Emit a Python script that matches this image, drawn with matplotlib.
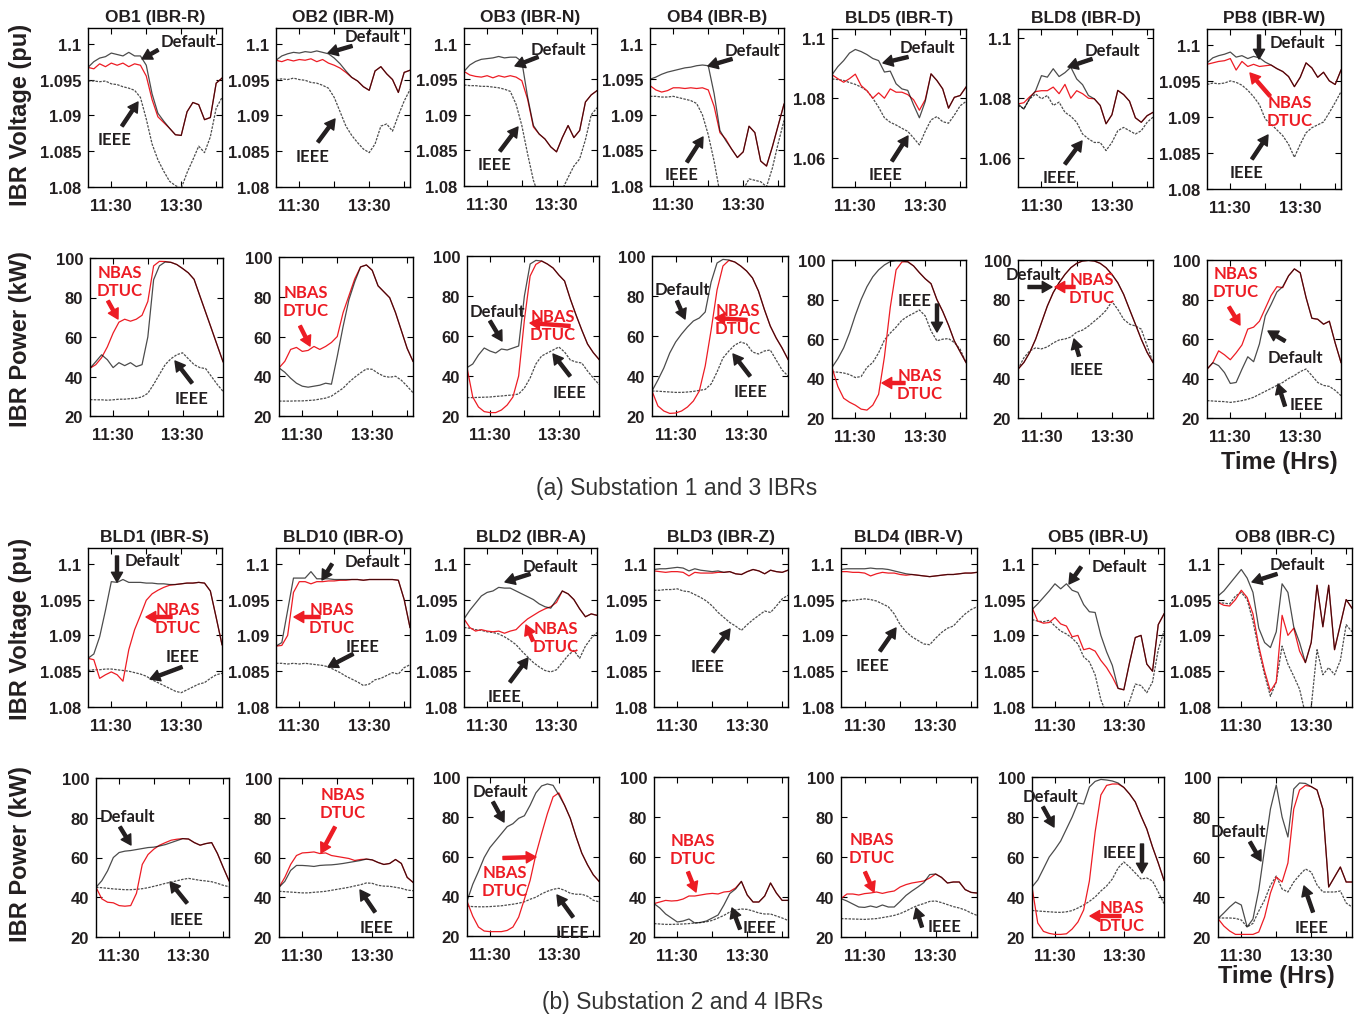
import matplotlib
matplotlib.use('Agg')
import matplotlib.pyplot as plt
import matplotlib.transforms as mtransforms

plt.rcParams['font.family'] = ['Liberation Sans', 'DejaVu Sans']
plt.rcParams['font.weight'] = 'bold'

# clock minutes of the samples (10:50 .. 14:40, every 10 min)
minutes = [650, 660, 670, 680, 690, 700, 710, 720, 730, 740, 750, 760,
           770, 780, 790, 800, 810, 820, 830, 840, 850, 860, 870, 880]
hours = [m / 60 for m in minutes]

# ---------------- (a) substation 1 and 3 : voltage (pu) ----------------
ob1_v_def = [1.0967,1.0975,1.0980,1.0982,1.0987,1.0985,1.0983,1.0988,1.0983,1.0983,1.0970,1.0930,1.0903,1.0892,1.0882,1.0873,1.0872,1.0905,1.0918,1.0915,1.0894,1.0897,1.0945,1.0952]
ob1_v_nbas = [1.0967,1.0965,1.0972,1.0968,1.0973,1.0970,1.0973,1.0968,1.0972,1.0970,1.0955,1.0922,1.0898,1.0890,1.0882,1.0873,1.0872,1.0905,1.0918,1.0915,1.0894,1.0897,1.0945,1.0952]
ob1_v_ieee = [1.0948,1.0948,1.0947,1.0948,1.0944,1.0943,1.0940,1.0938,1.0935,1.0925,1.0895,1.0860,1.0838,1.0822,1.0808,1.0802,1.0798,1.0820,1.0838,1.0857,1.0848,1.0870,1.0910,1.0925]

ob2_v_def = [1.0977,1.0983,1.0986,1.0988,1.0987,1.0989,1.0988,1.0990,1.0988,1.0986,1.0980,1.0972,1.0962,1.0953,1.0948,1.0940,1.0935,1.0962,1.0968,1.0958,1.0950,1.0932,1.0960,1.0963]
ob2_v_nbas = [1.0977,1.0975,1.0978,1.0976,1.0978,1.0977,1.0979,1.0975,1.0978,1.0973,1.0970,1.0966,1.0960,1.0953,1.0948,1.0940,1.0935,1.0962,1.0968,1.0958,1.0950,1.0932,1.0960,1.0963]
ob2_v_ieee = [1.0950,1.0951,1.0950,1.0952,1.0950,1.0949,1.0946,1.0945,1.0942,1.0938,1.0925,1.0905,1.0885,1.0872,1.0862,1.0853,1.0848,1.0860,1.0885,1.0888,1.0878,1.0900,1.0920,1.0936]

ob3_v_def = [1.0961,1.0970,1.0975,1.0978,1.0979,1.0980,1.0982,1.0980,1.0981,1.0981,1.0975,1.0925,1.0885,1.0873,1.0866,1.0855,1.0848,1.0868,1.0885,1.0868,1.0878,1.0918,1.0928,1.0934]
ob3_v_nbas = [1.0961,1.0956,1.0954,1.0953,1.0955,1.0952,1.0955,1.0953,1.0955,1.0953,1.0948,1.0922,1.0883,1.0873,1.0866,1.0855,1.0848,1.0868,1.0885,1.0868,1.0878,1.0918,1.0928,1.0934]
ob3_v_ieee = [1.0942,1.0941,1.0941,1.0940,1.0940,1.0939,1.0938,1.0936,1.0933,1.0915,1.0885,1.0845,1.0808,1.0785,1.0780,1.0780,1.0785,1.0795,1.0812,1.0828,1.0838,1.0865,1.0900,1.0910]

ob4_v_def = [1.0950,1.0953,1.0957,1.0960,1.0962,1.0964,1.0966,1.0967,1.0969,1.0970,1.0969,1.0930,1.0878,1.0864,1.0852,1.0840,1.0848,1.0884,1.0875,1.0835,1.0828,1.0855,1.0885,1.0915]
ob4_v_nbas = [1.0941,1.0935,1.0932,1.0934,1.0938,1.0938,1.0937,1.0938,1.0937,1.0938,1.0935,1.0912,1.0875,1.0866,1.0852,1.0840,1.0848,1.0884,1.0875,1.0835,1.0828,1.0855,1.0885,1.0915]
ob4_v_ieee = [1.0926,1.0926,1.0925,1.0925,1.0926,1.0924,1.0922,1.0920,1.0916,1.0900,1.0872,1.0835,1.0790,1.0780,1.0775,1.0785,1.0795,1.0810,1.0808,1.0806,1.0799,1.0825,1.0860,1.0892]

bld5_v_def = [1.0878,1.0905,1.0925,1.0950,1.0962,1.0955,1.0945,1.0932,1.0925,1.0887,1.0890,1.0848,1.0831,1.0826,1.0778,1.0735,1.0789,1.0881,1.0859,1.0831,1.0767,1.0803,1.0809,1.0837]
bld5_v_nbas = [1.0878,1.0865,1.0853,1.0865,1.0880,1.0842,1.0825,1.0800,1.0818,1.0800,1.0831,1.0820,1.0820,1.0812,1.0795,1.0760,1.0795,1.0881,1.0859,1.0831,1.0767,1.0803,1.0809,1.0837]
bld5_v_ieee = [1.0864,1.0862,1.0859,1.0852,1.0846,1.0837,1.0825,1.0800,1.0770,1.0735,1.0720,1.0711,1.0700,1.0690,1.0668,1.0645,1.0690,1.0728,1.0739,1.0722,1.0717,1.0744,1.0775,1.0789]

bld8_v_def = [1.0781,1.0764,1.0800,1.0825,1.0875,1.0870,1.0898,1.0872,1.0885,1.0903,1.0864,1.0845,1.0809,1.0798,1.0776,1.0715,1.0745,1.0826,1.0812,1.0790,1.0735,1.0720,1.0742,1.0753]
bld8_v_nbas = [1.0781,1.0785,1.0805,1.0822,1.0825,1.0825,1.0837,1.0815,1.0846,1.0800,1.0825,1.0815,1.0800,1.0798,1.0776,1.0715,1.0745,1.0826,1.0812,1.0790,1.0735,1.0720,1.0742,1.0753]
bld8_v_ieee = [1.0776,1.0765,1.0798,1.0814,1.0798,1.0809,1.0776,1.0787,1.0753,1.0740,1.0720,1.0681,1.0665,1.0653,1.0653,1.0626,1.0653,1.0692,1.0703,1.0692,1.0681,1.0692,1.0720,1.0737]

pb8_v_def = [1.0975,1.0982,1.0985,1.0987,1.0990,1.0983,1.0985,1.0981,1.0984,1.0982,1.0976,1.0972,1.0967,1.0963,1.0956,1.0942,1.0955,1.0975,1.0968,1.0955,1.0962,1.0950,1.0945,1.0965]
pb8_v_nbas = [1.0973,1.0975,1.0977,1.0978,1.0981,1.0965,1.0977,1.0970,1.0973,1.0970,1.0971,1.0972,1.0967,1.0963,1.0956,1.0942,1.0955,1.0975,1.0968,1.0955,1.0962,1.0950,1.0945,1.0965]
pb8_v_ieee = [1.0945,1.0947,1.0946,1.0947,1.0950,1.0948,1.0944,1.0937,1.0928,1.0917,1.0897,1.0890,1.0882,1.0874,1.0862,1.0844,1.0862,1.0878,1.0885,1.0889,1.0893,1.0906,1.0920,1.0935]

# ---------------- (a) substation 1 and 3 : power (kW) ----------------
ob1_p_def = [44.2,47.5,51.0,48.5,44.5,47.0,45.5,47.0,45.0,46.0,60.0,89.0,96.0,98.0,97.8,96.7,94.7,92.5,89.2,80.8,72.5,64.2,55.8,47.5]
ob1_p_nbas = [44.2,46.0,49.5,55.0,62.0,67.5,69.0,68.0,69.0,71.0,78.0,96.0,98.3,98.2,97.8,96.7,94.7,92.5,89.2,80.8,72.5,64.2,55.8,47.5]
ob1_p_ieee = [28.3,28.2,28.2,28.0,28.2,28.5,28.5,28.8,29.0,29.7,31.5,36.0,41.0,46.0,49.0,51.0,52.0,49.0,46.0,44.5,44.0,40.0,36.0,32.5]

ob2_p_def = [44.2,42.0,39.0,36.5,35.0,34.5,35.0,35.5,36.5,36.0,50.0,65.0,78.5,87.5,95.0,96.0,93.3,85.5,82.5,79.5,72.0,63.0,54.0,47.5]
ob2_p_nbas = [44.2,47.5,53.5,54.5,52.5,53.0,55.0,53.5,55.0,57.0,60.0,72.0,80.5,89.0,95.0,96.0,93.3,85.5,82.5,79.5,72.0,63.0,54.0,47.5]
ob2_p_ieee = [27.5,27.5,27.5,27.6,27.6,27.8,28.0,28.5,29.0,30.0,32.0,34.0,37.0,39.5,41.7,43.7,43.5,41.5,40.0,39.5,40.0,38.0,35.0,31.7]

ob3_p_def = [44.2,46.0,50.5,54.0,52.5,51.5,53.5,53.0,54.0,55.0,80.0,96.0,97.8,97.5,96.0,94.0,90.5,87.5,78.5,70.5,63.0,56.0,51.7,48.3]
ob3_p_nbas = [44.2,29.5,24.5,22.2,21.7,21.7,23.0,25.5,29.5,40.0,68.0,90.0,95.8,97.5,96.0,94.0,90.5,87.5,78.5,70.5,63.0,56.0,51.7,48.3]
ob3_p_ieee = [29.2,29.2,29.3,29.4,29.5,29.8,30.0,30.3,30.5,31.0,34.0,39.0,46.0,50.0,51.5,53.0,54.5,52.0,48.0,47.0,46.5,42.5,39.0,35.8]

ob4_p_def = [32.5,38.0,44.0,51.5,57.0,61.0,64.5,67.5,69.0,72.0,87.0,96.5,98.3,98.0,97.0,95.0,92.5,89.0,82.5,73.3,65.0,59.0,54.0,48.3]
ob4_p_nbas = [32.5,25.0,22.5,21.3,21.5,22.5,24.5,27.5,32.5,45.0,63.0,83.0,95.0,97.8,97.0,95.0,92.5,89.0,82.5,73.3,65.0,59.0,54.0,48.3]
ob4_p_ieee = [32.5,32.4,32.2,32.0,31.8,31.8,32.0,32.3,32.8,33.3,36.0,42.0,49.0,52.5,55.5,57.0,56.0,52.0,51.0,52.5,53.0,48.0,43.0,40.0]

bld5_p_def = [45.6,50.0,55.5,63.0,72.0,80.0,86.5,91.5,95.0,97.5,99.2,99.6,99.5,99.0,97.0,93.6,90.5,88.0,80.0,74.0,67.0,59.0,53.5,48.1]
bld5_p_nbas = [45.6,36.0,30.0,28.0,26.5,24.5,24.0,26.5,32.0,51.0,76.0,95.0,99.0,99.2,97.0,93.6,90.5,88.0,80.0,74.0,67.0,59.0,53.5,48.1]
bld5_p_ieee = [43.4,43.2,42.8,42.0,40.5,41.0,45.6,48.1,53.0,59.5,63.0,66.0,69.5,71.5,73.0,74.7,71.7,64.1,59.1,59.9,60.2,58.2,54.8,48.1]

bld8_p_def = [44.7,48.1,53.2,59.9,68.3,76.7,83.5,88.5,92.7,96.1,98.3,99.5,99.8,99.5,98.3,96.1,92.7,88.5,82.6,75.0,67.5,59.9,53.2,48.1]
bld8_p_nbas = [44.7,48.1,53.2,59.9,68.3,76.7,83.5,88.5,92.7,96.1,98.3,99.5,99.8,99.5,98.3,96.1,92.7,88.5,82.6,75.0,67.5,59.9,53.2,48.1]
bld8_p_ieee = [44.7,50.5,54.0,55.5,55.0,56.0,58.0,59.5,60.0,61.0,63.5,64.5,66.5,69.0,71.5,74.5,79.0,75.0,70.0,67.5,66.6,65.0,56.5,48.1]

pb8_p_def = [44.7,48.0,46.5,43.0,37.5,38.0,44.7,51.0,48.5,57.5,71.7,77.5,83.8,86.5,92.0,95.5,93.5,81.0,70.5,70.0,67.5,69.0,58.0,48.1]
pb8_p_nbas = [44.7,48.0,54.0,52.0,49.5,53.0,57.0,65.0,66.0,69.0,75.5,82.0,86.5,86.0,92.0,95.5,93.5,81.0,70.5,70.0,67.5,69.0,58.0,48.1]
pb8_p_ieee = [28.8,28.6,28.4,28.3,27.9,28.3,28.8,29.5,30.5,32.0,33.5,35.0,36.5,38.0,40.0,41.5,43.5,44.8,41.5,38.0,36.5,36.0,34.0,31.3]

# ---------------- (b) substation 2 and 4 : voltage (pu) ----------------
bld1_v_def = [1.0868,1.0874,1.0898,1.0935,1.0975,1.0974,1.0978,1.0974,1.0974,1.0974,1.0973,1.0973,1.0972,1.0972,1.0971,1.0971,1.0972,1.0973,1.0973,1.0974,1.0973,1.0962,1.0925,1.0887]
bld1_v_nbas = [1.0868,1.0866,1.0840,1.0845,1.0849,1.0845,1.0836,1.0880,1.0908,1.0928,1.0949,1.0958,1.0963,1.0967,1.0970,1.0971,1.0972,1.0973,1.0973,1.0974,1.0973,1.0962,1.0925,1.0887]
bld1_v_ieee = [1.0851,1.0852,1.0852,1.0853,1.0853,1.0852,1.0851,1.0850,1.0848,1.0846,1.0843,1.0838,1.0834,1.0830,1.0826,1.0822,1.0820,1.0824,1.0828,1.0832,1.0834,1.0840,1.0845,1.0847]

bld10_v_def = [1.0885,1.0890,1.0935,1.0980,1.0980,1.0980,1.0989,1.0979,1.0979,1.0979,1.0978,1.0978,1.0978,1.0978,1.0978,1.0977,1.0978,1.0978,1.0978,1.0978,1.0978,1.0977,1.0950,1.0911]
bld10_v_nbas = [1.0885,1.0886,1.0900,1.0960,1.0975,1.0975,1.0972,1.0975,1.0975,1.0976,1.0976,1.0977,1.0977,1.0978,1.0978,1.0977,1.0978,1.0978,1.0978,1.0978,1.0978,1.0977,1.0950,1.0911]
bld10_v_ieee = [1.0861,1.0861,1.0860,1.0861,1.0860,1.0861,1.0860,1.0859,1.0858,1.0856,1.0852,1.0848,1.0843,1.0839,1.0835,1.0830,1.0832,1.0838,1.0840,1.0844,1.0848,1.0846,1.0855,1.0859]

bld2_v_def = [1.0923,1.0935,1.0945,1.0955,1.0960,1.0962,1.0967,1.0966,1.0966,1.0962,1.0958,1.0954,1.0950,1.0944,1.0940,1.0938,1.0950,1.0962,1.0958,1.0950,1.0937,1.0926,1.0930,1.0928]
bld2_v_nbas = [1.0923,1.0911,1.0906,1.0908,1.0906,1.0905,1.0906,1.0903,1.0906,1.0908,1.0916,1.0923,1.0928,1.0933,1.0937,1.0940,1.0946,1.0962,1.0958,1.0950,1.0937,1.0926,1.0930,1.0928]
bld2_v_ieee = [1.0911,1.0910,1.0908,1.0907,1.0905,1.0904,1.0902,1.0898,1.0893,1.0887,1.0878,1.0870,1.0862,1.0856,1.0851,1.0849,1.0852,1.0862,1.0872,1.0879,1.0868,1.0885,1.0896,1.0904]

bld3_v_def = [1.0992,1.0993,1.0993,1.0994,1.0995,1.0994,1.0990,1.0993,1.0991,1.0990,1.0989,1.0990,1.0988,1.0989,1.0986,1.0985,1.0989,1.0992,1.0990,1.0986,1.0991,1.0989,1.0988,1.0991]
bld3_v_nbas = [1.0990,1.0989,1.0988,1.0989,1.0989,1.0988,1.0983,1.0988,1.0987,1.0987,1.0987,1.0988,1.0988,1.0989,1.0986,1.0985,1.0989,1.0992,1.0990,1.0986,1.0991,1.0989,1.0988,1.0991]
bld3_v_ieee = [1.0963,1.0963,1.0964,1.0964,1.0965,1.0962,1.0961,1.0957,1.0953,1.0948,1.0941,1.0932,1.0925,1.0918,1.0913,1.0907,1.0915,1.0922,1.0928,1.0934,1.0932,1.0941,1.0951,1.0956]

bld4_v_def = [1.0992,1.0993,1.0993,1.0993,1.0993,1.0994,1.0993,1.0993,1.0992,1.0990,1.0988,1.0986,1.0985,1.0984,1.0983,1.0982,1.0983,1.0984,1.0985,1.0985,1.0986,1.0987,1.0987,1.0988]
bld4_v_nbas = [1.0989,1.0989,1.0988,1.0988,1.0987,1.0983,1.0986,1.0988,1.0987,1.0987,1.0985,1.0984,1.0985,1.0984,1.0983,1.0982,1.0983,1.0984,1.0985,1.0985,1.0986,1.0987,1.0987,1.0988]
bld4_v_ieee = [1.0947,1.0948,1.0949,1.0950,1.0951,1.0950,1.0948,1.0944,1.0940,1.0930,1.0915,1.0905,1.0898,1.0893,1.0888,1.0887,1.0896,1.0904,1.0910,1.0913,1.0922,1.0930,1.0936,1.0940]

ob5_v_def = [1.0936,1.0944,1.0953,1.0962,1.0972,1.0965,1.0972,1.0963,1.0960,1.0943,1.0933,1.0932,1.0900,1.0877,1.0858,1.0826,1.0824,1.0862,1.0897,1.0900,1.0860,1.0850,1.0915,1.0930]
ob5_v_nbas = [1.0939,1.0920,1.0917,1.0918,1.0925,1.0916,1.0913,1.0898,1.0900,1.0880,1.0882,1.0878,1.0865,1.0855,1.0842,1.0826,1.0824,1.0862,1.0897,1.0900,1.0860,1.0850,1.0915,1.0930]
ob5_v_ieee = [1.0922,1.0920,1.0919,1.0921,1.0913,1.0906,1.0902,1.0896,1.0888,1.0870,1.0863,1.0845,1.0810,1.0790,1.0782,1.0780,1.0788,1.0808,1.0832,1.0830,1.0820,1.0835,1.0880,1.0906]

ob8_v_def = [1.0955,1.0962,1.0972,1.0982,1.0992,1.0980,1.0960,1.0910,1.0890,1.0883,1.0905,1.0972,1.0960,1.0912,1.0890,1.0862,1.0890,1.0970,1.0912,1.0970,1.0880,1.0915,1.0950,1.0938]
ob8_v_nbas = [1.0946,1.0942,1.0941,1.0950,1.0963,1.0953,1.0930,1.0885,1.0850,1.0822,1.0835,1.0928,1.0900,1.0910,1.0878,1.0862,1.0890,1.0970,1.0912,1.0970,1.0880,1.0915,1.0950,1.0938]
ob8_v_ieee = [1.0946,1.0945,1.0944,1.0955,1.0960,1.0950,1.0920,1.0880,1.0845,1.0815,1.0835,1.0885,1.0860,1.0843,1.0825,1.0790,1.0800,1.0880,1.0845,1.0855,1.0845,1.0865,1.0915,1.0905]

# ---------------- (b) substation 2 and 4 : power (kW) ----------------
bld1_p_def = [45.0,48.3,53.3,60.0,62.5,63.2,63.5,64.0,64.5,65.0,65.2,65.8,66.5,67.5,68.5,69.5,69.3,67.5,66.2,67.0,67.5,62.0,55.0,48.3]
bld1_p_nbas = [45.0,39.2,37.5,37.2,35.8,35.5,35.8,42.0,56.5,61.5,64.2,66.2,67.5,68.7,69.2,69.5,69.3,67.5,66.2,67.0,67.5,62.0,55.0,48.3]
bld1_p_ieee = [45.0,44.8,44.5,44.2,44.0,43.8,43.8,44.0,44.3,44.8,45.5,46.2,47.0,47.6,48.3,49.0,49.5,49.0,48.5,48.2,47.8,47.0,46.0,45.3]

bld10_p_def = [45.0,48.0,53.5,56.0,56.0,55.8,55.5,56.0,56.2,56.3,56.6,57.0,57.5,58.0,58.5,59.2,58.8,57.5,56.5,57.0,59.0,57.0,50.0,47.5]
bld10_p_nbas = [45.0,50.0,56.5,61.0,62.3,62.5,62.8,62.0,62.3,61.0,60.5,60.0,59.5,58.5,59.0,59.2,58.8,57.5,56.5,57.0,59.0,57.0,50.0,47.5]
bld10_p_ieee = [43.0,42.8,42.6,42.4,42.2,42.2,42.5,42.7,43.0,43.5,44.0,44.5,45.0,45.7,46.3,47.2,47.0,46.0,45.6,45.5,45.0,44.5,43.6,43.3]

bld2_p_def = [37.5,46.0,52.5,59.5,64.5,68.0,71.5,75.0,76.5,79.2,80.5,85.8,92.0,95.5,96.5,95.8,91.0,85.8,79.2,70.0,61.7,55.8,50.8,47.5]
bld2_p_nbas = [37.5,30.0,24.5,22.5,22.2,22.2,22.2,22.8,24.5,29.5,38.5,48.0,61.0,71.5,81.5,90.0,92.0,85.8,79.2,70.0,61.7,55.8,50.8,47.5]
bld2_p_ieee = [35.0,34.8,34.7,34.7,34.8,35.0,35.2,35.6,36.0,36.5,37.2,38.5,39.5,41.2,42.5,43.5,44.0,43.0,41.5,41.0,41.0,40.0,38.0,37.2]

bld3_p_def = [36.7,34.5,31.5,29.5,27.5,28.0,29.0,27.0,27.3,28.0,29.5,31.0,36.0,41.7,44.0,47.8,41.0,37.5,37.5,40.5,47.0,42.0,38.3,38.3]
bld3_p_nbas = [36.7,37.5,38.3,38.0,38.2,39.0,40.5,40.5,41.0,41.5,41.8,41.5,42.5,42.8,44.5,47.8,41.0,37.5,37.5,40.5,47.0,42.0,38.3,38.3]
bld3_p_ieee = [26.7,26.5,26.3,26.3,26.4,26.5,26.7,27.0,27.2,27.6,28.3,29.5,30.8,32.5,33.5,34.0,33.8,33.0,32.0,31.5,31.5,30.5,29.5,28.3]

bld4_p_def = [39.2,38.0,36.5,35.0,34.8,35.5,34.8,36.0,35.0,35.0,37.8,40.8,43.0,45.0,47.2,51.2,51.5,49.8,47.0,47.5,47.5,43.7,42.3,42.0]
bld4_p_nbas = [39.2,41.5,41.5,41.0,41.7,42.0,42.5,41.8,42.5,43.0,45.0,46.2,47.0,47.5,48.0,49.5,51.5,49.8,47.0,47.5,47.5,43.7,42.3,42.0]
bld4_p_ieee = [29.2,29.1,29.0,28.9,28.8,29.0,29.2,29.7,30.2,30.8,31.7,33.0,34.5,35.8,36.7,37.8,38.0,37.2,36.2,35.2,34.5,33.5,32.0,30.8]

ob5_p_def = [45.0,48.5,54.2,60.0,63.8,68.0,74.0,80.0,87.0,86.5,95.0,97.8,98.8,98.5,98.0,97.0,94.8,91.5,87.5,80.5,74.0,65.0,57.0,48.3]
ob5_p_nbas = [45.0,27.0,22.8,21.8,21.3,21.3,21.6,24.0,27.5,33.5,48.0,72.5,91.0,95.8,96.5,96.5,94.8,91.5,87.5,80.5,74.0,65.0,57.0,48.3]
ob5_p_ieee = [33.3,33.0,32.8,32.6,32.4,32.3,32.6,33.2,34.5,36.0,37.8,40.0,43.0,45.5,49.0,54.5,57.5,55.0,52.0,49.0,49.5,48.0,42.5,36.7]

ob8_p_def = [29.2,32.0,35.0,37.5,36.0,25.0,29.0,43.5,64.0,84.0,96.0,80.0,70.0,94.0,97.0,96.8,95.2,93.5,84.0,45.0,50.0,55.0,47.5,47.5]
ob8_p_nbas = [29.2,25.5,23.0,21.3,21.3,21.3,21.3,22.5,30.0,42.0,50.0,47.5,57.0,84.0,93.5,95.8,95.2,93.5,84.0,45.0,50.0,55.0,47.5,47.5]
ob8_p_ieee = [29.5,29.5,29.5,29.3,28.5,25.0,26.8,33.0,38.5,45.8,50.5,44.0,42.5,47.5,51.0,54.0,52.5,46.0,42.5,42.5,42.5,43.0,37.0,35.0]

# tick labels
x_ticks = [11.5, 12.5, 13.5, 14.5]
x_labels = ['11:30', '', '13:30', '']
v_ticks = [1.08, 1.085, 1.09, 1.095, 1.1]
v_labels = ['1.08', '1.085', '1.09', '1.095', '1.1']
v_ticks_wide = [1.06, 1.08, 1.1]
v_labels_wide = ['1.06', '1.08', '1.1']
p_ticks = [20, 40, 60, 80, 100]
p_labels = ['20', '40', '60', '80', '100']

DTUC = 'NBAS\nDTUC'
RED = '#ed1c24'
INK = '#231f20'

# panel: title, kind, box (left, top, right, bottom in px), default, nbas, ieee, notes
# note: (text, colour, text centre, arrow tail, arrow head) in px
panels = [
    ('OB1 (IBR-R)', 'v', (88, 29, 222, 188), ob1_v_def, ob1_v_nbas, ob1_v_ieee,
     [('Default', INK, (188, 42), (158, 51), (142, 60)),
      ('IEEE', INK, (115, 140), (122, 127), (138, 103))]),
    ('OB2 (IBR-M)', 'v', (276, 29, 410, 188), ob2_v_def, ob2_v_nbas, ob2_v_ieee,
     [('Default', INK, (372, 37), (352, 47), (328, 54)),
      ('IEEE', INK, (313, 157), (318, 143), (335, 120))]),
    ('OB3 (IBR-N)', 'v', (464, 29, 597, 187), ob3_v_def, ob3_v_nbas, ob3_v_ieee,
     [('Default', INK, (558, 50), (538, 58), (515, 67)),
      ('IEEE', INK, (495, 165), (500, 152), (518, 128))]),
    ('OB4 (IBR-B)', 'v', (650, 29, 784, 187), ob4_v_def, ob4_v_nbas, ob4_v_ieee,
     [('Default', INK, (752, 51), (732, 60), (708, 67)),
      ('IEEE', INK, (682, 175), (687, 163), (703, 138))]),
    ('BLD5 (IBR-T)', 'vw', (832, 30, 966, 188), bld5_v_def, bld5_v_nbas, bld5_v_ieee,
     [('Default', INK, (927, 48), (908, 58), (883, 64)),
      ('IEEE', INK, (886, 175), (892, 162), (908, 137))]),
    ('BLD8 (IBR-D)', 'vw', (1018, 30, 1153, 188), bld8_v_def, bld8_v_nbas, bld8_v_ieee,
     [('Default', INK, (1112, 51), (1092, 60), (1068, 68)),
      ('IEEE', INK, (1060, 178), (1065, 165), (1082, 142))]),
    ('PB8 (IBR-W)', 'v', (1207, 30, 1341, 190), pb8_v_def, pb8_v_nbas, pb8_v_ieee,
     [('Default', INK, (1297, 43), (1259, 36), (1259, 60)),
      (DTUC, RED, (1290, 112), (1270, 97), (1250, 74)),
      ('IEEE', INK, (1247, 173), (1252, 160), (1268, 136))]),

    (None, 'p', (90, 259, 223, 417), ob1_p_def, ob1_p_nbas, ob1_p_ieee,
     [(DTUC, RED, (120, 282), (108, 302), (118, 320)),
      ('IEEE', INK, (192, 399), (192, 384), (175, 362))]),
    (None, 'p', (279, 258, 413, 417), ob2_p_def, ob2_p_nbas, ob2_p_ieee,
     [(DTUC, RED, (306, 302), (300, 327), (310, 347))]),
    (None, 'p', (467, 257, 599, 417), ob3_p_def, ob3_p_nbas, ob3_p_ieee,
     [('Default', INK, (497, 312), (490, 322), (502, 342)),
      (DTUC, RED, (553, 326), (570, 327), (530, 324)),
      ('IEEE', INK, (570, 393), (570, 377), (553, 355))]),
    (None, 'p', (652, 257, 788, 417), ob4_p_def, ob4_p_nbas, ob4_p_ieee,
     [('Default', INK, (682, 290), (677, 302), (685, 320)),
      (DTUC, RED, (738, 320), (747, 321), (715, 319)),
      ('IEEE', INK, (751, 392), (750, 377), (733, 355))]),
    (None, 'p', (832, 261, 966, 419), bld5_p_def, bld5_p_nbas, bld5_p_ieee,
     [('IEEE', INK, (915, 301), (937, 305), (937, 333)),
      (DTUC, RED, (920, 385), (905, 384), (882, 384))]),
    (None, 'p', (1018, 261, 1153, 419), bld8_p_def, bld8_p_nbas, bld8_p_ieee,
     [('Default', INK, (1033, 275), (1028, 288), (1052, 288)),
      (DTUC, RED, (1092, 289), (1075, 288), (1055, 288)),
      ('IEEE', INK, (1087, 370), (1079, 357), (1074, 340))]),
    (None, 'p', (1207, 261, 1341, 419), pb8_p_def, pb8_p_nbas, pb8_p_ieee,
     [(DTUC, RED, (1236, 283), (1229, 308), (1240, 326)),
      ('Default', INK, (1295, 358), (1285, 342), (1268, 332)),
      ('IEEE', INK, (1307, 405), (1285, 407), (1278, 385))]),

    ('BLD1 (IBR-S)', 'v', (88, 549, 222, 708), bld1_v_def, bld1_v_nbas, bld1_v_ieee,
     [('Default', INK, (152, 561), (117, 557), (117, 583)),
      (DTUC, RED, (178, 619), (172, 618), (146, 618)),
      ('IEEE', INK, (183, 657), (182, 668), (150, 680))]),
    ('BLD10 (IBR-O)', 'v', (276, 549, 410, 708), bld10_v_def, bld10_v_nbas, bld10_v_ieee,
     [('Default', INK, (372, 562), (332, 565), (322, 581)),
      (DTUC, RED, (332, 619), (320, 618), (294, 618)),
      ('IEEE', INK, (363, 647), (353, 655), (328, 668))]),
    ('BLD2 (IBR-A)', 'v', (464, 549, 597, 708), bld2_v_def, bld2_v_nbas, bld2_v_ieee,
     [('Default', INK, (550, 567), (530, 575), (505, 583)),
      (DTUC, RED, (556, 638), (533, 642), (526, 626)),
      ('IEEE', INK, (505, 697), (510, 683), (528, 659))]),
    ('BLD3 (IBR-Z)', 'v', (654, 549, 788, 708), bld3_v_def, bld3_v_nbas, bld3_v_ieee,
     [('IEEE', INK, (708, 667), (713, 653), (730, 630))]),
    ('BLD4 (IBR-V)', 'v', (841, 549, 977, 708), bld4_v_def, bld4_v_nbas, bld4_v_ieee,
     [('IEEE', INK, (873, 666), (880, 652), (896, 629))]),
    ('OB5 (IBR-U)', 'v', (1032, 549, 1164, 708), ob5_v_def, ob5_v_nbas, ob5_v_ieee,
     [('Default', INK, (1119, 567), (1081, 568), (1069, 585))]),
    ('OB8 (IBR-C)', 'v', (1218, 549, 1352, 708), ob8_v_def, ob8_v_nbas, ob8_v_ieee,
     [('Default', INK, (1297, 565), (1277, 575), (1252, 583))]),

    (None, 'p', (96, 779, 229, 938), bld1_p_def, bld1_p_nbas, bld1_p_ieee,
     [('Default', INK, (127, 817), (120, 828), (131, 846)),
      ('IEEE', INK, (187, 920), (187, 904), (170, 883))]),
    (None, 'p', (279, 779, 413, 938), bld10_p_def, bld10_p_nbas, bld10_p_ieee,
     [(DTUC, RED, (343, 804), (335, 828), (321, 854)),
      ('IEEE', INK, (377, 928), (375, 913), (360, 891))]),
    (None, 'p', (467, 778, 599, 937), bld2_p_def, bld2_p_nbas, bld2_p_ieee,
     [('Default', INK, (500, 792), (493, 803), (504, 823)),
      (DTUC, RED, (505, 882), (503, 859), (536, 858)),
      ('IEEE', INK, (573, 933), (573, 918), (557, 896))]),
    (None, 'p', (654, 778, 788, 938), bld3_p_def, bld3_p_nbas, bld3_p_ieee,
     [(DTUC, RED, (693, 850), (688, 873), (696, 893)),
      ('IEEE', INK, (760, 928), (740, 930), (732, 909))]),
    (None, 'p', (841, 778, 977, 938), bld4_p_def, bld4_p_nbas, bld4_p_ieee,
     [(DTUC, RED, (872, 849), (865, 873), (874, 893)),
      ('IEEE', INK, (945, 927), (922, 928), (916, 909))]),
    (None, 'p', (1032, 778, 1164, 938), ob5_p_def, ob5_p_nbas, ob5_p_ieee,
     [('Default', INK, (1050, 797), (1043, 808), (1054, 828)),
      ('IEEE', INK, (1120, 853), (1142, 845), (1142, 874)),
      (DTUC, RED, (1122, 917), (1121, 917), (1090, 917))]),
    (None, 'p', (1218, 778, 1352, 938), ob8_p_def, ob8_p_nbas, ob8_p_ieee,
     [('Default', INK, (1238, 832), (1250, 843), (1261, 862)),
      ('IEEE', INK, (1312, 928), (1313, 913), (1304, 887))]),
]

W, H = 1356, 1020
fig = plt.figure(figsize=(W / 100, H / 100), dpi=100)
pix = mtransforms.Affine2D().scale(1 / W, -1 / H).translate(0, 1) + fig.transFigure

for title, kind, (l, t, r, b), dflt, nbas, ieee, notes in panels:
    ax = fig.add_axes([l / W, 1 - b / H, (r - l) / W, (b - t) / H])
    ax.plot(hours, ieee, color='#4d4d4d', lw=0.9, ls=(0, (2, 1)))
    ax.plot(hours, nbas, color=RED, lw=0.9)
    ax.plot(hours, dflt, color='black', lw=0.9, alpha=0.7)
    ax.set_xlim(hours[0], hours[-1])
    ax.set_xticks(x_ticks)
    ax.set_xticklabels(x_labels)
    if kind == 'v':
        ax.set_ylim(1.08, 1.1022)
        ax.set_yticks(v_ticks)
        ax.set_yticklabels(v_labels)
    elif kind == 'vw':
        ax.set_ylim(1.0505, 1.103)
        ax.set_yticks(v_ticks_wide)
        ax.set_yticklabels(v_labels_wide)
    else:
        ax.set_ylim(20, 100)
        ax.set_yticks(p_ticks)
        ax.set_yticklabels(p_labels)
    ax.tick_params(direction='in', top=True, right=True, length=4, width=0.8,
                   labelsize=12, labelcolor=INK, pad=5)
    ax.tick_params(axis='x', pad=8)
    for sp in ax.spines.values():
        sp.set_linewidth(1.0)
    if title:
        ax.set_title(title, fontsize=12.5, fontweight='bold', color=INK, pad=5)
    for text, col, (tx, ty), tail, head in notes:
        fig.text(tx, ty, text, transform=pix, ha='center', va='center',
                 fontsize=12, fontweight='bold', color=col,
                 family=['Lato', 'DejaVu Sans'], linespacing=1.1)
        ax.annotate('', xy=head, xycoords=pix, xytext=tail, textcoords=pix,
                    arrowprops=dict(facecolor=col, edgecolor=col, width=2.2,
                                    headwidth=8, headlength=7, shrink=0))

# axis captions
for y, s in [(115, 'IBR Voltage (pu)'), (339, 'IBR Power (kW)'),
             (629, 'IBR Voltage (pu)'), (854, 'IBR Power (kW)')]:
    fig.text(21, y, s, transform=pix, rotation=90, ha='center', va='center',
             fontsize=17, fontweight='bold', color=INK)
fig.text(1279, 463, 'Time (Hrs)', transform=pix, ha='center', va='center',
         fontsize=17, fontweight='bold', color=INK)
fig.text(1276, 977, 'Time (Hrs)', transform=pix, ha='center', va='center',
         fontsize=17, fontweight='bold', color=INK)
fig.text(677, 489, '(a) Substation 1 and 3 IBRs', transform=pix, ha='center',
         va='center', fontsize=16.5, fontweight='normal', color='#333333')
fig.text(682, 1003, '(b) Substation 2 and 4 IBRs', transform=pix, ha='center',
         va='center', fontsize=16.5, fontweight='normal', color='#333333')

fig.savefig('out.png', dpi=100)
